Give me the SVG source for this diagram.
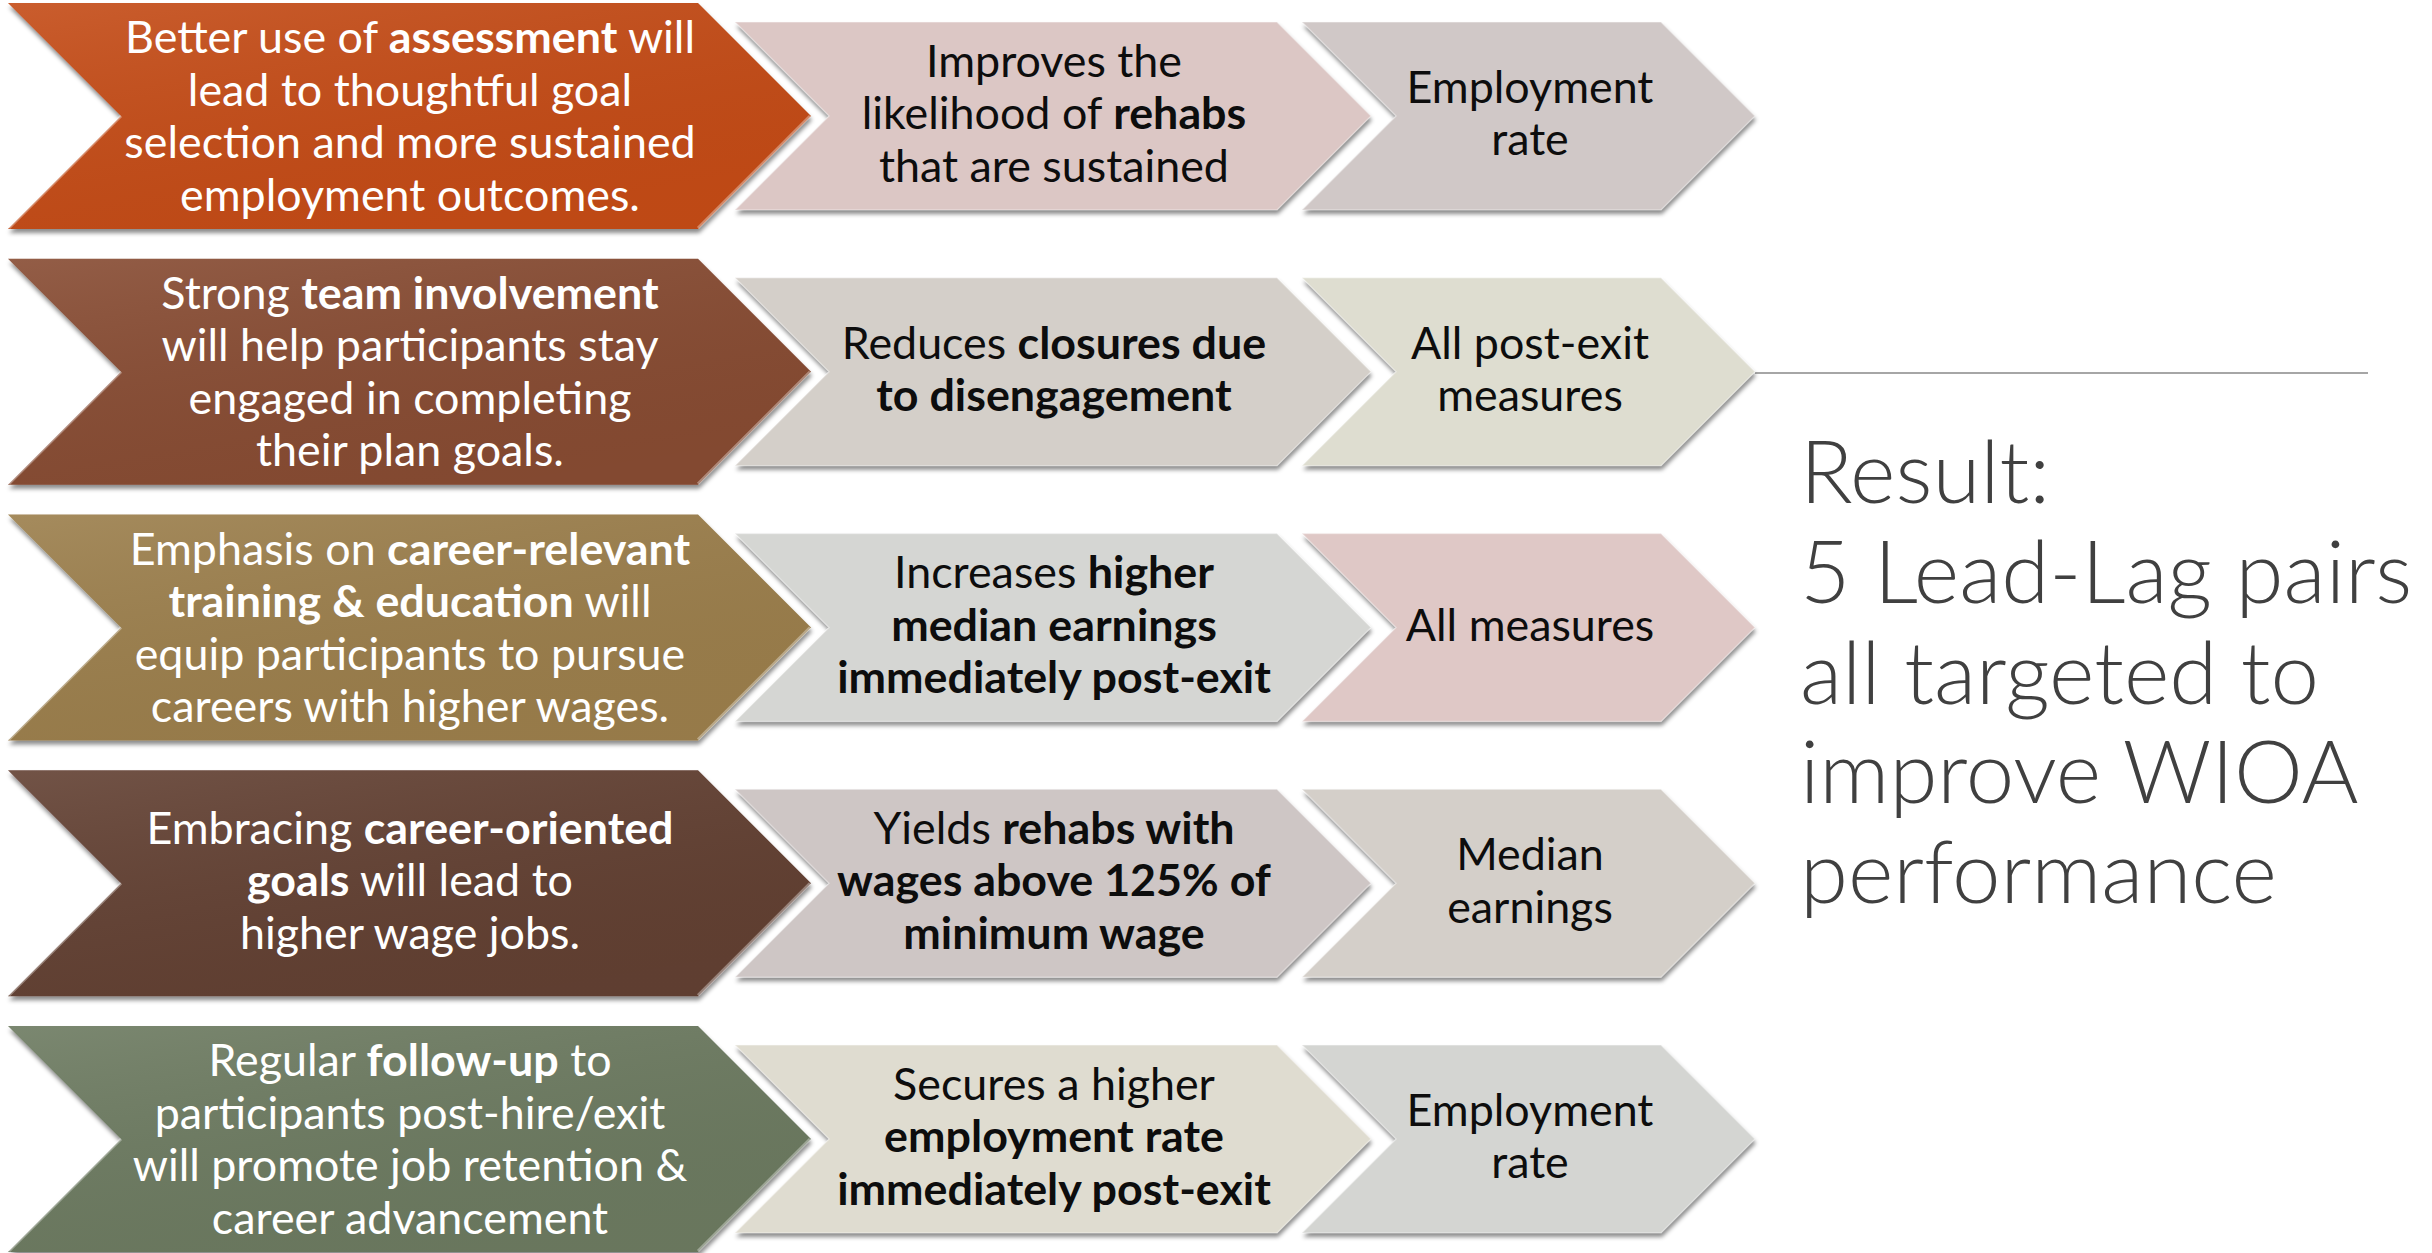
<svg xmlns="http://www.w3.org/2000/svg" width="2432" height="1253" viewBox="0 0 2432 1253">
<defs>
<filter id="sh" x="-5%" y="-10%" width="110%" height="125%">
<feDropShadow dx="1" dy="4" stdDeviation="2.2" flood-color="#000" flood-opacity="0.45"/>
</filter>
<linearGradient id="gl" x1="0" y1="0" x2="0.6" y2="1">
<stop offset="0" stop-color="#fff" stop-opacity="0.10"/>
<stop offset="1" stop-color="#000" stop-opacity="0.03"/>
</linearGradient>
<polygon id="big" points="8,0 698,0 811,113 698,226 8,226 121,113"/>
<polygon id="mid" points="735,19 1277,19 1371,113 1277,207 735,207 829,113"/>
<polygon id="thr" points="1302,19 1661,19 1755,113 1661,207 1302,207 1396,113"/>
</defs>
<style>
text{font-family:Lato,"Liberation Sans","DejaVu Sans",sans-serif;font-size:44.8px;text-anchor:middle}
.w{fill:#ffffff}
.k{fill:#0d0d0d}
.b{font-weight:700}
.hl{fill:none;stroke:#ffffff;stroke-opacity:0.35;stroke-width:3}
.ol{fill:none;stroke:#ffffff;stroke-opacity:0.35;stroke-width:1.5}
.res{font-family:Lato,"Liberation Sans",sans-serif;font-weight:300;font-size:87px;fill:#404040;text-anchor:start}
</style>
<rect width="2432" height="1253" fill="#ffffff"/>

<g id="connectors">
<line x1="1755" y1="373" x2="2368" y2="373" stroke="#a6a6a6" stroke-width="2"/>
</g>

<!-- Row 1 -->
<g id="row1" transform="translate(0,3)">
<g id="lead1">
<use href="#big" fill="#c44b19" filter="url(#sh)"/>
<use href="#big" fill="url(#gl)"/>
<polyline class="hl" points="9,225 121,113"/><polyline class="hl" points="698,225 810,113"/>
<text class="w" x="410" y="50"><tspan>Better use of </tspan><tspan class="b">assessment</tspan><tspan> will</tspan></text>
<text class="w" x="410" y="102.5">lead to thoughtful goal</text>
<text class="w" x="410" y="155">selection and more sustained</text>
<text class="w" x="410" y="207.5">employment outcomes.</text>
</g>
<g id="lag1">
<use href="#mid" fill="#dcc7c5" filter="url(#sh)"/>
<use href="#mid" class="ol"/>
<text class="k" x="1054" y="73.5">Improves the</text>
<text class="k" x="1054" y="126"><tspan>likelihood of </tspan><tspan class="b">rehabs</tspan></text>
<text class="k" x="1054" y="178.5">that are sustained</text>
</g>
<g id="measure1">
<use href="#thr" fill="#d0c8c7" filter="url(#sh)"/>
<use href="#thr" class="ol"/>
<text class="k" x="1530" y="99.75">Employment</text>
<text class="k" x="1530" y="152.25">rate</text>
</g>
</g>

<!-- Row 2 -->
<g id="row2" transform="translate(0,258.75)">
<g id="lead2">
<use href="#big" fill="#874b32" filter="url(#sh)"/>
<use href="#big" fill="url(#gl)"/>
<polyline class="hl" points="9,225 121,113"/><polyline class="hl" points="698,225 810,113"/>
<text class="w" x="410" y="50"><tspan>Strong </tspan><tspan class="b">team involvement</tspan></text>
<text class="w" x="410" y="102.5">will help participants stay</text>
<text class="w" x="410" y="155">engaged in completing</text>
<text class="w" x="410" y="207.5">their plan goals.</text>
</g>
<g id="lag2">
<use href="#mid" fill="#d4cfc9" filter="url(#sh)"/>
<use href="#mid" class="ol"/>
<text class="k" x="1054" y="99.75"><tspan>Reduces </tspan><tspan class="b">closures due</tspan></text>
<text class="k b" x="1054" y="152.25">to disengagement</text>
</g>
<g id="measure2">
<use href="#thr" fill="#deddd0" filter="url(#sh)"/>
<use href="#thr" class="ol"/>
<text class="k" x="1530" y="99.75">All post-exit</text>
<text class="k" x="1530" y="152.25">measures</text>
</g>
</g>

<!-- Row 3 -->
<g id="row3" transform="translate(0,514.5)">
<g id="lead3">
<use href="#big" fill="#9b7e4b" filter="url(#sh)"/>
<use href="#big" fill="url(#gl)"/>
<polyline class="hl" points="9,225 121,113"/><polyline class="hl" points="698,225 810,113"/>
<text class="w" x="410" y="50"><tspan>Emphasis on </tspan><tspan class="b">career-relevant</tspan></text>
<text class="w" x="410" y="102.5"><tspan class="b">training &amp; education</tspan><tspan> will</tspan></text>
<text class="w" x="410" y="155">equip participants to pursue</text>
<text class="w" x="410" y="207.5">careers with higher wages.</text>
</g>
<g id="lag3">
<use href="#mid" fill="#d5d6d3" filter="url(#sh)"/>
<use href="#mid" class="ol"/>
<text class="k" x="1054" y="73.5"><tspan>Increases </tspan><tspan class="b">higher</tspan></text>
<text class="k b" x="1054" y="126">median earnings</text>
<text class="k b" x="1054" y="178.5">immediately post-exit</text>
</g>
<g id="measure3">
<use href="#thr" fill="#dfc8c6" filter="url(#sh)"/>
<use href="#thr" class="ol"/>
<text class="k" x="1530" y="126">All measures</text>
</g>
</g>

<!-- Row 4 -->
<g id="row4" transform="translate(0,770.25)">
<g id="lead4">
<use href="#big" fill="#623f31" filter="url(#sh)"/>
<use href="#big" fill="url(#gl)"/>
<polyline class="hl" points="9,225 121,113"/><polyline class="hl" points="698,225 810,113"/>
<text class="w" x="410" y="73.5"><tspan>Embracing </tspan><tspan class="b">career-oriented</tspan></text>
<text class="w" x="410" y="126"><tspan class="b">goals</tspan><tspan> will lead to</tspan></text>
<text class="w" x="410" y="178.5">higher wage jobs.</text>
</g>
<g id="lag4">
<use href="#mid" fill="#cec6c5" filter="url(#sh)"/>
<use href="#mid" class="ol"/>
<text class="k" x="1054" y="73.5"><tspan>Yields </tspan><tspan class="b">rehabs with</tspan></text>
<text class="k b" x="1054" y="126">wages above 125% of</text>
<text class="k b" x="1054" y="178.5">minimum wage</text>
</g>
<g id="measure4">
<use href="#thr" fill="#d4cfc9" filter="url(#sh)"/>
<use href="#thr" class="ol"/>
<text class="k" x="1530" y="99.75">Median</text>
<text class="k" x="1530" y="152.25">earnings</text>
</g>
</g>

<!-- Row 5 -->
<g id="row5" transform="translate(0,1026)">
<g id="lead5">
<use href="#big" fill="#6c7a61" filter="url(#sh)"/>
<use href="#big" fill="url(#gl)"/>
<polyline class="hl" points="9,225 121,113"/><polyline class="hl" points="698,225 810,113"/>
<text class="w" x="410" y="50"><tspan>Regular </tspan><tspan class="b">follow-up</tspan><tspan> to</tspan></text>
<text class="w" x="410" y="102.5">participants post-hire/exit</text>
<text class="w" x="410" y="155">will promote job retention &amp;</text>
<text class="w" x="410" y="207.5">career advancement</text>
</g>
<g id="lag5">
<use href="#mid" fill="#dfdcd0" filter="url(#sh)"/>
<use href="#mid" class="ol"/>
<text class="k" x="1054" y="73.5">Secures a higher</text>
<text class="k b" x="1054" y="126">employment rate</text>
<text class="k b" x="1054" y="178.5">immediately post-exit</text>
</g>
<g id="measure5">
<use href="#thr" fill="#d4d5d2" filter="url(#sh)"/>
<use href="#thr" class="ol"/>
<text class="k" x="1530" y="99.75">Employment</text>
<text class="k" x="1530" y="152.25">rate</text>
</g>
</g>

<g id="result">
<text class="res" x="1800" y="503">Result:</text>
<text class="res" x="1800" y="603">5 Lead-Lag pairs</text>
<text class="res" x="1800" y="704">all targeted to</text>
<text class="res" x="1800" y="803">improve WIOA</text>
<text class="res" x="1800" y="903">performance</text>
</g>
</svg>
